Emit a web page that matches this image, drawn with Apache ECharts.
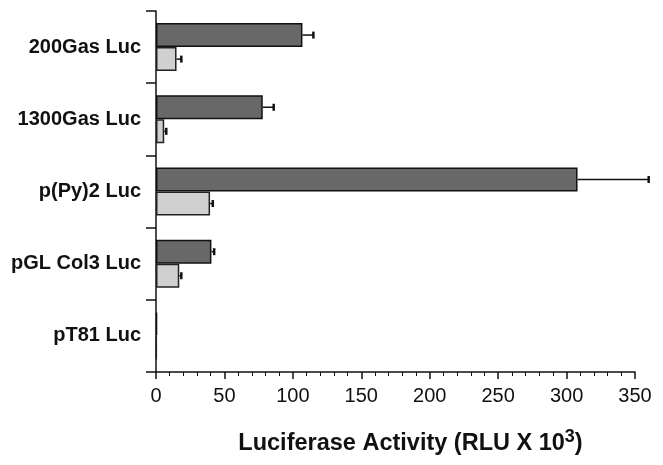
<!DOCTYPE html>
<html>
<head>
<meta charset="utf-8">
<script src="https://cdn.jsdelivr.net/npm/echarts@6/dist/echarts.min.js"></script>
<style>
  html, body { margin: 0; padding: 0; background: #fff; }
  #chart { width: 663px; height: 465px; }
</style>
</head>
<body>
<div id="chart"></div>
<script>
// Reporter constructs, listed top to bottom
const constructs = ['200Gas Luc', '1300Gas Luc', 'p(Py)2 Luc', 'pGL Col3 Luc', 'pT81 Luc'];

// Luciferase activity (RLU x 10^3), mean and error for each condition
const darkMean  = [107, 78, 308, 40.5, 0.8];
const darkErr   = [8, 8, 52, 2, 0];
const lightMean = [15, 6, 39.5, 17, 0.5];
const lightErr  = [3.5, 1.5, 2, 1.5, 0];

// x axis ticks
const xMin = 0, xMax = 350, xStep = 50;

const FONT = '"Liberation Sans", Arial, Helvetica, sans-serif';

// error whisker drawn on the right side of each bar, with a short cap
function whisker(side) {
  return function (params, api) {
    const cat = api.value(0);
    const mean = api.value(1);
    const err = api.value(2);
    if (!err) return null;
    const band = api.size([0, 1])[1];
    const off = side * band / 6;
    const p0 = api.coord([mean, cat]);
    const p1 = api.coord([mean + err, cat]);
    const y = p0[1] + off;
    const st = { stroke: '#111', lineWidth: 1.5 };
    return {
      type: 'group',
      children: [
        { type: 'line', shape: { x1: p0[0], y1: y, x2: p1[0], y2: y }, style: st },
        { type: 'line', shape: { x1: p1[0], y1: y - 3.5, x2: p1[0], y2: y + 3.5 }, style: { stroke: '#111', lineWidth: 2.5 } }
      ]
    };
  };
}

const chart = echarts.init(document.getElementById('chart'), null, { renderer: 'canvas' });
chart.setOption({
  animation: false,
  backgroundColor: '#fff',
  grid: { left: 156, right: 28, top: 11, bottom: 93, containLabel: false },
  xAxis: {
    type: 'value',
    min: xMin, max: xMax, interval: xStep,
    splitLine: { show: false },
    axisLine: { show: true, lineStyle: { color: '#111', width: 1.5 } },
    axisTick: { show: true, length: 7, lineStyle: { color: '#111', width: 1.5 } },
    minorTick: { show: true, splitNumber: 5, length: 4, lineStyle: { color: '#111', width: 1 } },
    axisLabel: { color: '#111', fontFamily: FONT, fontSize: 20, margin: 14 },
    name: '{a|Luciferase Activity (RLU X 10}{s|3}{a|)}',
    nameLocation: 'middle',
    nameGap: 56,
    nameTextStyle: {
      padding: [0, 0, 0, 30],
      rich: {
        a: { fontFamily: FONT, fontSize: 23.5, fontWeight: 'bold', color: '#111' },
        s: { fontFamily: FONT, fontSize: 18, fontWeight: 'bold', color: '#111', padding: [0, 0, 14, 0] }
      }
    }
  },
  yAxis: {
    type: 'category',
    inverse: true,
    data: constructs,
    axisLine: { show: true, lineStyle: { color: '#111', width: 1.5 } },
    axisTick: { show: true, length: 10, lineStyle: { color: '#111', width: 1.5 } },
    axisLabel: { color: '#111', fontFamily: FONT, fontSize: 20, fontWeight: 'bold', margin: 15 },
    splitLine: { show: false }
  },
  series: [
    {
      type: 'bar', name: 'dark',
      data: darkMean,
      barWidth: 24, barGap: '0%', barCategoryGap: '33.3%',
      itemStyle: { color: '#686868', borderColor: '#111', borderWidth: 1.5 }
    },
    {
      type: 'bar', name: 'light',
      data: lightMean,
      barWidth: 24, barGap: '0%', barCategoryGap: '33.3%',
      itemStyle: { color: '#d0d0d0', borderColor: '#222', borderWidth: 1.5 }
    },
    {
      type: 'custom',
      renderItem: whisker(-1),
      encode: { x: 1, y: 0 },
      data: darkMean.map((m, i) => [i, m, darkErr[i]]),
      z: 3
    },
    {
      type: 'custom',
      renderItem: whisker(1),
      encode: { x: 1, y: 0 },
      data: lightMean.map((m, i) => [i, m, lightErr[i]]),
      z: 3
    }
  ]
});
</script>
</body>
</html>
